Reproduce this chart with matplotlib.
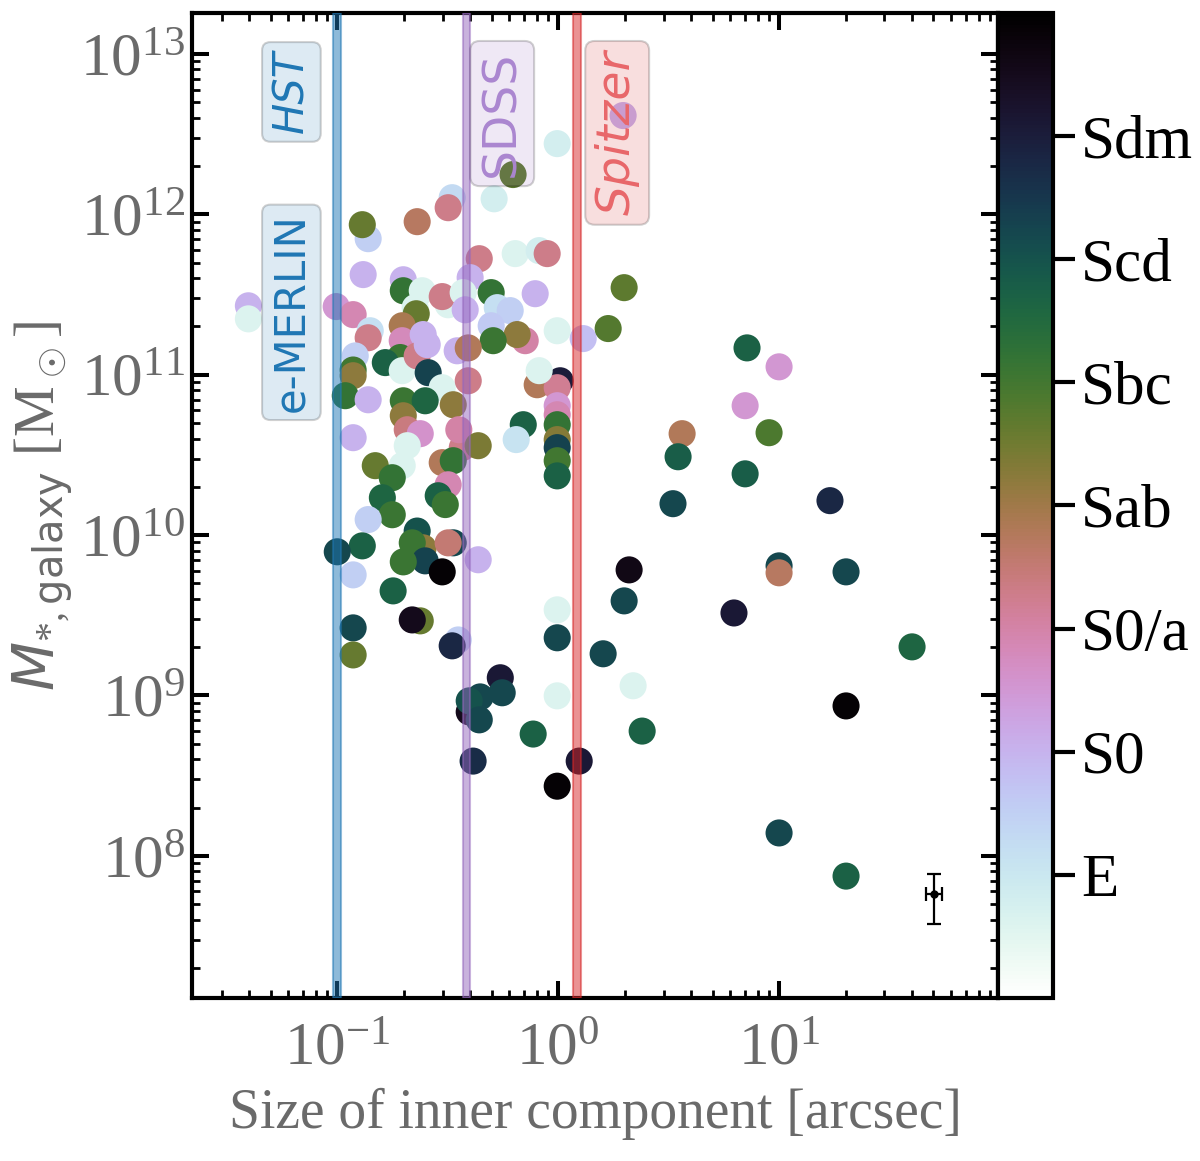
import numpy as np
import matplotlib
matplotlib.use("Agg")
import matplotlib.pyplot as plt
from matplotlib.colors import Normalize, to_rgba

plt.rcParams['font.family'] = ['Liberation Serif', 'DejaVu Serif']
plt.rcParams['mathtext.fontset'] = 'custom'
plt.rcParams['mathtext.rm'] = 'Liberation Serif'
plt.rcParams['mathtext.it'] = 'DejaVu Sans:italic'
plt.rcParams['mathtext.sf'] = 'DejaVu Sans'

# ---- data: size of inner component [arcsec], galaxy stellar mass [Msun], morphology code
size_arcsec = [
    0.0396, 0.0396, 0.0989, 0.118, 0.138, 0.1298, 0.131, 0.230, 0.3313, 0.3177,
    0.513, 0.625, 0.99, 1.968, 0.639, 0.8204, 0.8917, 0.4393, 0.3995, 0.199,
    0.199, 0.2425, 0.3177, 0.2986, 0.2252, 0.2278, 0.141, 0.138, 0.1968, 0.1968,
    0.2449, 0.3715, 0.3794, 0.4975, 0.530, 0.6065, 0.787, 0.4975, 0.7093, 0.6523,
    0.508, 0.99, 1.298, 1.684, 1.989, 0.349, 0.3917, 0.1206, 0.1928, 0.165,
    0.1968, 0.230, 0.2554, 0.258, 0.2986, 0.118, 0.118, 0.1087, 0.138, 0.199,
    0.250, 0.199, 0.2074, 0.2375, 0.335, 0.3917, 0.368, 0.355, 0.118, 0.2074,
    0.1968, 0.1486, 0.1774, 0.2986, 0.335, 0.3177, 0.160, 0.2864, 0.3083, 0.4345,
    1.021, 0.8035, 0.99, 0.99, 0.99, 0.99, 0.99, 0.99, 0.99, 0.99,
    0.695, 0.6456, 0.8204, 0.1774, 0.138, 0.230, 0.2449, 0.2185, 0.250, 0.199,
    0.1298, 0.100, 0.335, 0.3177, 0.2986, 0.4345, 0.118, 0.179, 0.2375, 0.2185,
    0.118, 0.118, 0.3528, 0.3313, 2.095, 1.989, 0.99, 0.99, 1.598, 2.184,
    0.547, 0.558, 0.3956, 0.4436, 0.3956, 0.4393, 0.99, 0.7706, 2.40, 1.245,
    0.412, 0.99, 7.16, 10.0, 7.02, 3.64, 9.01, 3.49, 7.02, 3.31,
    17.0, 10.0, 10.0, 20.1, 6.25, 40.0, 20.1, 10.0, 20.1,
]
mass_galaxy = [
    2.69e11, 2.23e11, 2.66e11, 2.37e11, 7.05e11, 8.62e11, 4.21e11, 9.0e11, 1.27e12, 1.10e12,
    1.25e12, 1.77e12, 2.76e12, 4.13e12, 5.69e11, 5.94e11, 5.69e11, 5.29e11, 4.03e11, 3.91e11,
    3.34e11, 3.34e11, 2.73e11, 3.07e11, 2.62e11, 2.40e11, 1.88e11, 1.70e11, 2.02e11, 1.63e11,
    1.78e11, 3.25e11, 2.54e11, 3.25e11, 2.62e11, 2.51e11, 3.20e11, 2.02e11, 1.63e11, 1.78e11,
    1.63e11, 1.88e11, 1.68e11, 1.94e11, 3.49e11, 1.41e11, 1.47e11, 1.31e11, 1.28e11, 1.19e11,
    1.06e11, 1.31e11, 1.54e11, 1.03e11, 8.30e10, 1.07e11, 9.86e10, 7.40e10, 6.98e10, 6.88e10,
    6.88e10, 5.55e10, 4.54e10, 4.29e10, 6.50e10, 9.17e10, 3.51e10, 4.54e10, 4.05e10, 3.61e10,
    2.71e10, 2.71e10, 2.28e10, 2.83e10, 2.91e10, 2.06e10, 1.71e10, 1.76e10, 1.55e10, 3.61e10,
    9.17e10, 8.66e10, 8.30e10, 6.41e10, 5.63e10, 4.88e10, 3.94e10, 3.51e10, 2.91e10, 2.34e10,
    4.88e10, 3.94e10, 1.06e11, 1.34e10, 1.25e10, 1.06e10, 8.33e9, 8.95e9, 6.91e9, 6.81e9,
    8.57e9, 7.87e9, 8.95e9, 8.95e9, 5.90e9, 7.02e9, 5.65e9, 4.49e9, 2.92e9, 2.96e9,
    2.64e9, 1.79e9, 2.22e9, 2.04e9, 6.07e9, 3.89e9, 3.42e9, 2.29e9, 1.82e9, 1.15e9,
    1.29e9, 1.04e9, 7.90e8, 9.80e8, 9.26e8, 7.05e8, 9.95e8, 5.75e8, 6.0e8, 3.90e8,
    3.90e8, 2.72e8, 1.47e11, 1.12e11, 6.41e10, 4.29e10, 4.35e10, 3.08e10, 2.41e10, 1.57e10,
    1.64e10, 6.43e9, 5.82e9, 5.90e9, 3.27e9, 2.01e9, 8.61e8, 1.39e8, 7.48e7,
]
morph_code = [
    2.0, 0.6, 2.5, 2.9, 1.5, 4.6, 2.0, 3.7, 1.3, 3.3,
    0.8, 4.7, 0.8, 2.0, 0.6, 0.8, 3.3, 3.3, 2.0, 2.0,
    5.2, 0.6, 0.6, 3.3, 0.6, 4.6, 1.2, 3.3, 3.9, 2.8,
    2.0, 0.6, 2.0, 5.2, 1.2, 1.5, 2.0, 1.6, 3.0, 4.2,
    5.1, 0.6, 1.8, 4.8, 4.7, 2.0, 3.8, 1.5, 5.1, 5.7,
    0.6, 3.3, 2.0, 6.3, 0.6, 5.0, 4.2, 5.2, 2.0, 5.1,
    5.6, 4.2, 3.4, 2.6, 4.2, 3.3, 3.3, 3.0, 2.0, 0.6,
    0.6, 4.6, 5.2, 3.8, 5.2, 2.9, 5.6, 5.7, 5.1, 4.4,
    7.0, 3.8, 3.2, 2.5, 2.9, 5.2, 4.3, 6.3, 5.0, 5.7,
    5.7, 1.1, 0.6, 5.1, 1.5, 6.0, 4.2, 5.1, 6.3, 5.1,
    5.7, 6.2, 6.2, 3.5, 7.9, 2.0, 1.5, 5.7, 4.6, 7.5,
    6.2, 4.6, 1.5, 6.8, 7.6, 6.2, 0.6, 6.2, 6.2, 0.6,
    7.1, 6.2, 7.5, 6.2, 6.0, 6.2, 0.6, 5.7, 5.7, 7.1,
    6.7, 7.9, 5.7, 2.5, 2.5, 3.8, 4.9, 5.8, 5.8, 6.2,
    6.8, 6.2, 3.7, 6.2, 7.1, 5.6, 7.9, 6.2, 5.7,
]
morph_ticks = [1, 2, 3, 4, 5, 6, 7]
morph_labels = ['E', 'S0', 'S0/a', 'Sab', 'Sbc', 'Scd', 'Sdm']

# instrument resolutions [arcsec]
res_hst = 0.1
res_sdss = 0.385
res_spitzer = 1.22

# typical uncertainty
err_x = [50.2]
err_y = [5.79e7]
err_x_lo, err_x_hi = [3.8], [4.2]
err_y_lo, err_y_hi = [2.03e7], [1.92e7]

gray = '#6a6a6a'
fig = plt.figure(figsize=(12, 11.61), dpi=100)
ax = fig.add_axes([0.16, 0.1404, 0.6717, 0.8484])
cax = fig.add_axes([0.8317, 0.1404, 0.046, 0.8484])

norm = Normalize(vmin=0, vmax=8)
sc = ax.scatter(size_arcsec, mass_galaxy, c=morph_code, cmap='cubehelix_r', norm=norm,
                s=380, linewidths=0, zorder=2)

ax.set_xscale('log')
ax.set_yscale('log')
ax.set_xlim(0.022, 98)
ax.set_ylim(1.3e7, 1.8e13)

for xr, col in [(res_hst, 'tab:blue'), (res_sdss, 'tab:purple'), (res_spitzer, 'tab:red')]:
    ax.axvspan(xr / 1.04, xr * 1.04, facecolor=col, edgecolor=col, alpha=0.5, lw=1.5, zorder=3)

ax.errorbar(err_x, err_y, xerr=[err_x_lo, err_x_hi], yerr=[err_y_lo, err_y_hi],
            fmt='o', color='black', ms=5, capsize=5, elinewidth=1.6, capthick=1.6, zorder=4)

trans = ax.get_xaxis_transform()
def label_box(x, y, txt, tcol, bcol, size, style='normal'):
    ax.text(x, y, txt, transform=trans, rotation=90, ha='center', va='top',
            fontsize=size, color=tcol, style=style, family='DejaVu Sans', zorder=5,
            bbox=dict(boxstyle='round,pad=0.2', facecolor=to_rgba(bcol, 0.15),
                      edgecolor=(0, 0, 0, 0.18), lw=1.5))

label_box(0.062, 0.962, 'HST', '#1f77b4', 'tab:blue', 30, 'italic')
label_box(0.062, 0.797, 'e-MERLIN', '#1f77b4', 'tab:blue', 30)
label_box(0.558, 0.962, 'SDSS', '#ab86d0', 'tab:purple', 34)
label_box(1.85, 0.962, 'Spitzer', '#e8676a', 'tab:red', 34, 'italic')

ax.tick_params(which='major', direction='in', length=12, width=2.9, top=True, right=True,
               labelsize=44, labelcolor=gray)
ax.tick_params(axis='x', which='major', pad=17)
ax.tick_params(axis='y', which='major', pad=5)
ax.tick_params(which='minor', direction='in', length=6, width=2.0, top=True, right=True)
for sp in ax.spines.values():
    sp.set_linewidth(3)

ax.set_xlabel('Size of inner component [arcsec]', fontsize=40, color=gray, labelpad=8)
ax.set_ylabel(r'$M_{*,\mathsf{galaxy}}$ [M$_\odot$]', fontsize=41, color=gray, labelpad=4)

cb = fig.colorbar(sc, cax=cax, ticks=morph_ticks)
cb.ax.set_yticklabels(morph_labels)
cb.ax.tick_params(direction='out', length=16, width=3, labelsize=44, colors='black', pad=4)
cb.ax.minorticks_off()
cb.outline.set_linewidth(3)

fig.savefig('out.png', dpi=100)
